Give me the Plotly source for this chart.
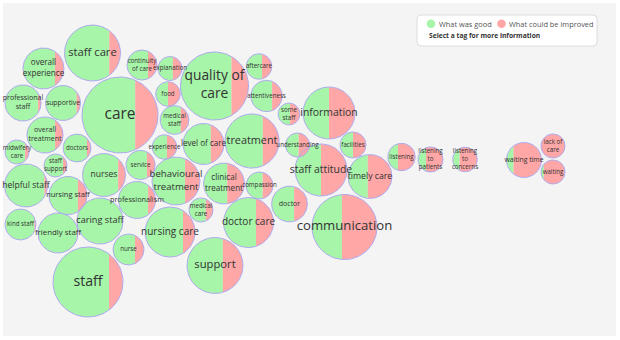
import numpy as np
import plotly.graph_objects as go

# Feedback tags: total mentions and share of mentions that were positive (%)
tags = [
    "care", "staff", "quality of care", "communication", "staff care",
    "support", "treatment", "information", "staff attitude", "doctor care",
    "nursing care", "behavioural treatment", "caring staff", "timely care",
    "nurses", "helpful staff", "level of care", "clinical treatment",
    "overall experience", "friendly staff", "professionalism", "nursing staff",
    "overall treatment", "professional staff", "doctor", "supportive",
    "waiting time", "attentiveness", "kind staff", "nurse",
    "continuity of care", "service", "medical staff", "doctors", "listening",
    "compassion", "facilities", "aftercare", "listening to patients", "food",
    "experience", "listening to concerns", "explanation", "understanding",
    "medical care", "lack of care", "waiting", "midwifery care",
    "staff support", "some staff",
]
mentions = [
    231, 196, 185, 169, 125, 125, 117, 108, 108, 100,
    100, 92, 85, 77, 74, 74, 67, 67, 67, 64,
    55, 58, 52, 52, 51, 49, 49, 39, 38, 38,
    36, 34, 33, 31, 30, 29, 27, 26, 25, 24,
    24, 24, 23, 23, 23, 23, 23, 23, 21, 19,
]
good_pct = [
    70, 80, 75, 46, 80, 64, 70, 50, 50, 65,
    76, 69, 98, 45, 83, 93, 68, 58, 78, 97,
    80, 76, 78, 92, 63, 89, 20, 68, 95, 71,
    70, 72, 72, 86, 37, 62, 50, 62, 32, 50,
    60, 28, 62, 55, 70, 0, 12, 84, 83, 55,
]

# Line breaks for the longer tag names
wrapped = {
    "quality of care": "quality of<br>care",
    "behavioural treatment": "behavioural<br>treatment",
    "clinical treatment": "clinical<br>treatment",
    "overall experience": "overall<br>experience",
    "overall treatment": "overall<br>treatment",
    "professional staff": "professional<br>staff",
    "continuity of care": "continuity<br>of care",
    "medical staff": "medical<br>staff",
    "listening to patients": "listening<br>to<br>patients",
    "listening to concerns": "listening<br>to<br>concerns",
    "medical care": "medical<br>care",
    "lack of care": "lack of<br>care",
    "midwifery care": "midwifery<br>care",
    "staff support": "staff<br>support",
    "some staff": "some<br>staff",
}

# Packed bubble layout (centre of each bubble, pixel space)
centres = [
    (120, 115), (88, 282), (214.5, 86), (344.5, 227), (92.5, 53),
    (215, 265.5), (252, 141), (329, 113), (321, 170), (248.5, 222.5),
    (170, 232), (176, 181), (100, 221), (370, 176.5), (104, 175),
    (26, 185.5), (203.5, 144), (224, 183.5), (43.5, 68.5), (58, 233),
    (137, 200), (68, 195.5), (45, 135), (23, 103), (289.5, 204),
    (63, 103), (524, 160), (266.5, 96), (20.5, 224.5), (128.5, 249.5),
    (142, 65), (140.5, 165), (174.5, 120), (77, 148), (401.5, 157),
    (259.5, 185.5), (353, 145), (259, 66.5), (430.5, 159.5), (168, 94),
    (164.5, 147), (465, 159.5), (170, 68.5), (297.5, 145), (201, 210),
    (553, 146), (553, 172), (17, 152), (55.5, 165.5), (289, 114),
]

GOOD = "#a6f5a8"
IMPROVE = "#ffa6a6"
EDGE = "#aeaaee"
TEXT = "#333333"
SCALE = 2.5  # radius = SCALE * sqrt(mentions)

gx, gy, px, py, ox, oy = [], [], [], [], [], []
lx, ly, ltext, lsize = [], [], [], []

for tag, n, g, (cx, cy) in zip(tags, mentions, good_pct, centres):
    r = SCALE * np.sqrt(n)
    split = cx - r + 2 * r * g / 100.0
    a = np.arccos(np.clip((split - cx) / r, -1, 1))
    if g > 0:
        t = np.linspace(a, 2 * np.pi - a, 60)
        gx += list(cx + r * np.cos(t)) + [None]
        gy += list(cy + r * np.sin(t)) + [None]
    if g < 100:
        t = np.linspace(-a, a, 60)
        px += list(cx + r * np.cos(t)) + [None]
        py += list(cy + r * np.sin(t)) + [None]
    t = np.linspace(0, 2 * np.pi, 90)
    ox += list(cx + r * np.cos(t)) + [None]
    oy += list(cy + r * np.sin(t)) + [None]
    lx.append(cx)
    ly.append(cy)
    ltext.append(wrapped.get(tag, tag))
    lsize.append(max(6.2, 0.42 * r - 0.5))

fig = go.Figure()
fig.add_trace(go.Scatter(x=gx, y=gy, mode="lines", fill="toself",
                         fillcolor=GOOD, line=dict(width=0),
                         hoverinfo="skip", showlegend=False))
fig.add_trace(go.Scatter(x=px, y=py, mode="lines", fill="toself",
                         fillcolor=IMPROVE, line=dict(width=0),
                         hoverinfo="skip", showlegend=False))
fig.add_trace(go.Scatter(x=ox, y=oy, mode="lines",
                         line=dict(color=EDGE, width=1),
                         hoverinfo="skip", showlegend=False))
fig.add_trace(go.Scatter(x=lx, y=ly, mode="text", text=ltext,
                         textposition="middle center",
                         textfont=dict(family="Open Sans", size=lsize, color=TEXT),
                         hoverinfo="skip", showlegend=False))

# Legend panel
bx0, by0, bx1, by1, rr = 417, 15, 597, 46, 4
box_path = (f"M {bx0+rr},{by0} L {bx1-rr},{by0} Q {bx1},{by0} {bx1},{by0+rr} "
            f"L {bx1},{by1-rr} Q {bx1},{by1} {bx1-rr},{by1} "
            f"L {bx0+rr},{by1} Q {bx0},{by1} {bx0},{by1-rr} "
            f"L {bx0},{by0+rr} Q {bx0},{by0} {bx0+rr},{by0} Z")

shapes = [
    dict(type="rect", xref="x", yref="y", x0=3, y0=3, x1=616, y1=336,
         fillcolor="#f4f4f4", line=dict(width=0), layer="below"),
    dict(type="path", xref="x", yref="y", path=box_path,
         fillcolor="white", line=dict(color="#dcdcdc", width=1), layer="below"),
]

fig.add_trace(go.Scatter(x=[431, 501.5], y=[23.8, 23.8], mode="markers",
                         marker=dict(size=8.5, color=[GOOD, IMPROVE],
                                     line=dict(width=0)),
                         hoverinfo="skip", showlegend=False))

annotations = [
    dict(x=436.5, y=23.8, text="What was good", showarrow=False,
         xanchor="left", yanchor="middle",
         font=dict(family="Open Sans", size=7.4, color="#555555")),
    dict(x=507, y=23.8, text="What could be improved", showarrow=False,
         xanchor="left", yanchor="middle",
         font=dict(family="Open Sans", size=7.4, color="#555555")),
    dict(x=426.5, y=35.5, text="<b>Select a tag for more information</b>",
         showarrow=False, xanchor="left", yanchor="middle",
         font=dict(family="Open Sans", size=6.7, color="#333333")),
]

fig.update_layout(
    width=620, height=340,
    margin=dict(l=0, r=0, t=0, b=0),
    paper_bgcolor="white", plot_bgcolor="white",
    xaxis=dict(range=[0, 620], visible=False, fixedrange=True),
    yaxis=dict(range=[340, 0], visible=False, fixedrange=True),
    shapes=shapes, annotations=annotations,
)

fig.write_html("out.html", config={"displayModeBar": False})
